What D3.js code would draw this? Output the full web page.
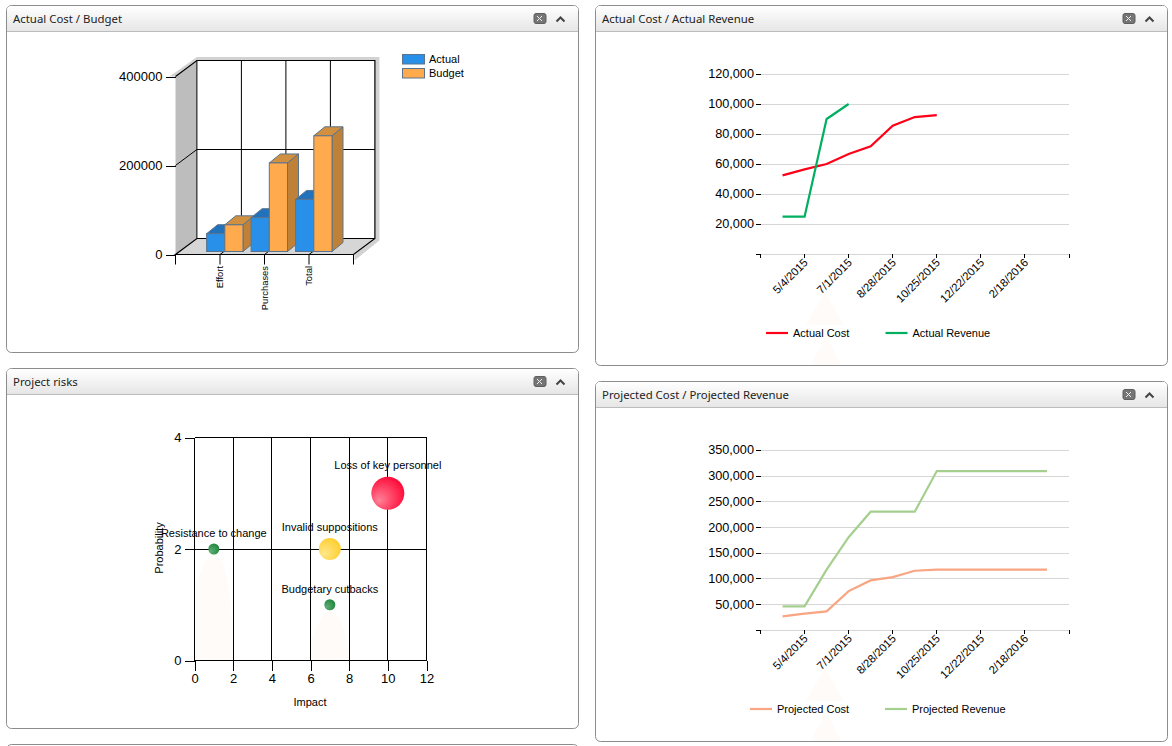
<!DOCTYPE html>
<html>
<head>
<meta charset="utf-8">
<title>Project dashboard</title>
<script src="https://cdn.jsdelivr.net/npm/d3@7"></script>
<style>
    html, body { margin: 0; padding: 0; background: #fff; overflow: hidden; }
    svg { display: block; }
    text { font-family: "Liberation Sans", Arial, sans-serif; fill: #000; }
    .panelTitle { font-family: "Noto Sans", sans-serif; font-size: 11.4px; fill: #222; }
    .domain { display: none; }
    .tick line { stroke: #000; shape-rendering: crispEdges; }
    .crisp line { shape-rendering: crispEdges; }
</style>
</head>
<body>
<svg id="board" width="1172" height="746"></svg>
<script>
// bar chart
var barCategories = ["Effort", "Purchases", "Total"];
var actualValues = [40000, 76000, 117000];
var budgetValues = [60000, 199000, 260000];
var barTicks = [0, 200000, 400000];

// line charts, one point every 29 days
var lineDates = ["4/5/2015", "5/4/2015", "6/2/2015", "7/1/2015", "7/30/2015", "8/28/2015", "9/26/2015",
    "10/25/2015", "11/23/2015", "12/22/2015", "1/20/2016", "2/18/2016", "3/18/2016"];
var labelledDates = ["5/4/2015", "7/1/2015", "8/28/2015", "10/25/2015", "12/22/2015", "2/18/2016"];
var actualCost = [52400, 56400, 60000, 66700, 71800, 85500, 91300, 92600];
var actualRevenue = [24900, 24900, 90000, 100000];
var projectedCost = [26500, 31700, 36200, 75700, 96400, 102900, 115200, 117500, 117500, 117500, 117500, 117500, 117500];
var projectedRevenue = [46000, 46000, 117500, 180500, 230000, 230000, 230000, 309000, 309000, 309000, 309000, 309000, 309000];
var actualTicks = [0, 20000, 40000, 60000, 80000, 100000, 120000];
var projectedTicks = [0, 50000, 100000, 150000, 200000, 250000, 300000, 350000];

// risks
var riskNames = ["Loss of key personnel", "Invalid suppositions", "Resistance to change", "Budgetary cutbacks"];
var riskImpact = [10, 7, 1, 7];
var riskProbability = [3, 2, 2, 1];
var riskSeverity = [3, 2, 1, 1];
var riskGradients = ["riskRed", "riskYellow", "riskGreen", "riskGreen"];
var impactTicks = [0, 2, 4, 6, 8, 10, 12];
var probabilityTicks = [0, 2, 4];

var svg = d3.select("#board");
var defs = svg.append("defs");

function addGradient(id, inner, outer) {
    var g = defs.append("radialGradient").attr("id", id)
        .attr("cx", "40%").attr("cy", "60%").attr("r", "70%")
        .attr("fx", "22%").attr("fy", "72%");
    g.append("stop").attr("offset", "0%").attr("stop-color", inner);
    g.append("stop").attr("offset", "100%").attr("stop-color", outer);
}
addGradient("riskRed", "#ff8399", "#ff0030");
addGradient("riskYellow", "#ffe78c", "#ffcd28");
addGradient("riskGreen", "#5fae76", "#1c8438");

var headerGrad = defs.append("linearGradient").attr("id", "headerGrad")
    .attr("x1", 0).attr("y1", 0).attr("x2", 0).attr("y2", 1);
headerGrad.append("stop").attr("offset", "0%").attr("stop-color", "#ffffff");
headerGrad.append("stop").attr("offset", "100%").attr("stop-color", "#e6e6e6");

// window frame with title bar, returns the group to draw in
function panel(x, y, w, h, title) {
    var g = svg.append("g");
    g.append("rect").attr("x", x + 0.5).attr("y", y + 0.5).attr("width", w).attr("height", h)
        .attr("rx", 5).attr("fill", "#fff").attr("stroke", "#8c8c8c");
    g.append("path")
        .attr("d", "M" + (x + 1) + "," + (y + 26) + "V" + (y + 5) + "Q" + (x + 1) + "," + (y + 1) + " " + (x + 5) + "," + (y + 1)
            + "H" + (x + w - 4) + "Q" + (x + w) + "," + (y + 1) + " " + (x + w) + "," + (y + 5) + "V" + (y + 26) + "Z")
        .attr("fill", "url(#headerGrad)");
    g.append("line").attr("x1", x + 1).attr("x2", x + w).attr("y1", y + 26.5).attr("y2", y + 26.5).attr("stroke", "#bcbcbc");
    g.append("text").attr("class", "panelTitle").attr("x", x + 7).attr("y", y + 18).text(title);
    // close button
    g.append("rect").attr("x", x + w - 44).attr("y", y + 8.5).attr("width", 12).attr("height", 10).attr("rx", 2)
        .attr("fill", "#757575").attr("stroke", "#5e5e5e");
    g.append("path").attr("d", "M" + (x + w - 41) + "," + (y + 11) + "l5,5m0,-5l-5,5")
        .attr("stroke", "#eee").attr("fill", "none");
    // collapse chevron
    g.append("path").attr("d", "M" + (x + w - 21.5) + "," + (y + 16.5) + "l4,-4l4,4")
        .attr("stroke", "#444").attr("stroke-width", 2).attr("fill", "none");
    return g;
}

// faint shapes seen behind the plots
var ghostColor = "#fffbf8";
function ghostDome(g, cx, top, bottom, halfWidth) {
    g.append("path")
        .attr("d", "M" + (cx - halfWidth) + "," + bottom + "V" + (top + 32)
            + "C" + (cx - halfWidth * 0.6) + "," + (top + 14) + " " + (cx - halfWidth * 0.3) + "," + top + " " + cx + "," + top
            + "C" + (cx + halfWidth * 0.5) + "," + top + " " + (cx + halfWidth) + "," + (top + 30) + " " + (cx + halfWidth) + "," + bottom + "Z")
        .attr("fill", ghostColor);
}
function ghostTriangle(g, cx, top, bottom, halfWidth) {
    g.append("path")
        .attr("d", "M" + cx + "," + top + "L" + (cx + halfWidth) + "," + bottom + "H" + (cx - halfWidth) + "Z")
        .attr("fill", ghostColor);
}

function drawBarChart(g) {
    var left = 175.5, right = 353.5, depthX = 21.4, depthY = -16;
    var y = d3.scaleLinear().domain([0, 400000]).range([254.5, 76.5]);
    var x = d3.scaleLinear().domain([0, 4]).range([left, right]);
    var y0 = y(0), yTop = y(400000);

    // drop shadow of the walls
    g.append("path").attr("fill", "#d2d2d2")
        .attr("d", "M" + (left - 6) + "," + yTop + "L" + (left + depthX) + "," + (yTop + depthY - 3.5) + "H" + (right + depthX + 4.5)
            + "V" + (y0 + depthY + 2) + "L" + (right + 1) + "," + (y0 + 6) + "V" + y0 + "L" + (left + depthX) + "," + (yTop + depthY) + "L" + left + "," + yTop + "Z");
    // walls and floor
    g.append("path").attr("fill", "#fff")
        .attr("d", "M" + (left + depthX) + "," + (yTop + depthY) + "H" + (right + depthX) + "V" + (y0 + depthY) + "H" + (left + depthX) + "Z");
    g.append("path").attr("fill", "#bdbdbd")
        .attr("d", "M" + left + "," + yTop + "L" + (left + depthX) + "," + (yTop + depthY) + "V" + (y0 + depthY) + "L" + left + "," + y0 + "Z");
    g.append("path").attr("fill", "#d6d6d6")
        .attr("d", "M" + left + "," + y0 + "L" + (left + depthX) + "," + (y0 + depthY) + "H" + (right + depthX) + "L" + right + "," + y0 + "Z");

    var grid = g.append("g").attr("stroke", "#000").attr("fill", "none");
    grid.append("path").attr("stroke-width", 1.2)
        .attr("d", "M" + left + "," + yTop + "L" + (left + depthX) + "," + (yTop + depthY) + "H" + (right + depthX) + "V" + (y0 + depthY)
            + "L" + right + "," + y0 + "H" + left + "L" + (left + depthX) + "," + (y0 + depthY) + "H" + (right + depthX));
    grid.append("line").attr("x1", left + depthX).attr("x2", left + depthX).attr("y1", yTop + depthY).attr("y2", y0 + depthY);
    d3.range(1, 4).forEach(function (i) {
        grid.append("line").attr("x1", x(i)).attr("x2", x(i) + depthX).attr("y1", y0).attr("y2", y0 + depthY);
        grid.append("line").attr("x1", x(i) + depthX).attr("x2", x(i) + depthX).attr("y1", y0 + depthY).attr("y2", yTop + depthY);
    });
    grid.append("line").attr("x1", left).attr("x2", left + depthX).attr("y1", y(200000)).attr("y2", y(200000) + depthY);
    grid.append("line").attr("x1", left + depthX).attr("x2", right + depthX).attr("y1", y(200000) + depthY).attr("y2", y(200000) + depthY);

    // bars, category by category so each one sits in front of the one before
    var barWidth = 18.2, barDX = 11, barDY = -9, shift = 4.8, lift = 3;
    var bars = g.append("g").attr("stroke", "#5b748e").attr("stroke-width", 1);
    function bar(v, i, front, top, side, offset) {
        var x0 = x(i + 1) + shift + offset, x1 = x0 + barWidth;
        var yB = y0 - lift, yT = y(v) - lift;
        bars.append("path").attr("fill", side)
            .attr("d", "M" + x1 + "," + yT + "l" + barDX + "," + barDY + "V" + (yB + barDY) + "L" + x1 + "," + yB + "Z");
        bars.append("path").attr("fill", top)
            .attr("d", "M" + x0 + "," + yT + "l" + barDX + "," + barDY + "H" + (x1 + barDX) + "L" + x1 + "," + yT + "Z");
        bars.append("rect").attr("x", x0).attr("y", yT).attr("width", barWidth).attr("height", yB - yT).attr("fill", front);
    }
    barCategories.forEach(function (c, i) {
        bar(actualValues[i], i, "#2890e8", "#2272bb", "#2272bb", -barWidth);
        bar(budgetValues[i], i, "#ffaa4c", "#d09040", "#bf8038", 0);
    });

    // value axis
    g.append("g").attr("transform", "translate(" + left + ",0)")
        .call(d3.axisLeft(y).tickValues(barTicks).tickSize(10).tickFormat(d3.format("d")))
        .call(function (a) { a.selectAll("text").attr("font-size", 13).attr("font-family", null); });

    // category ticks and labels
    d3.range(0, 5).forEach(function (i) {
        g.append("line").attr("x1", x(i)).attr("x2", x(i)).attr("y1", y0).attr("y2", y0 + 10).attr("stroke", "#000");
    });
    barCategories.forEach(function (c, i) {
        g.append("text").attr("font-size", 9.4).attr("text-anchor", "end")
            .attr("transform", "translate(" + (x(i + 1) + 3) + "," + (y0 + 11.5) + ") rotate(-90)")
            .text(c);
    });

    // legend
    [["Actual", "#2890e8"], ["Budget", "#ffaa4c"]].forEach(function (d, i) {
        g.append("rect").attr("x", 402.5).attr("y", 54.5 + i * 14).attr("width", 22).attr("height", 9.5)
            .attr("fill", d[1]).attr("stroke", "#5b748e");
        g.append("text").attr("x", 429).attr("y", 63 + i * 14).attr("font-size", 11).text(d[0]);
    });
}

function drawLineChart(g, top, yMax, ticks, series, legend) {
    var bottom = top + 180;
    var x = d3.scalePoint().domain(lineDates).range([760.5, 1069]).padding(1);
    var y = d3.scaleLinear().domain([0, yMax]).range([bottom, top]);

    ghostTriangle(g, 825, top + 219, top + 251, 19);
    ghostTriangle(g, 826, top + 262, top + 291, 15);

    g.append("g").attr("class", "crisp").selectAll("line").data(ticks).join("line")
        .attr("x1", 760.5).attr("x2", 1069)
        .attr("y1", function (d) { return y(d) + 0.3; })
        .attr("y2", function (d) { return y(d) + 0.3; })
        .attr("stroke", "#d6d6d6");

    g.append("g").attr("transform", "translate(760.5,0)")
        .call(d3.axisLeft(y).tickValues(ticks).tickSize(5).offset(0.3)
            .tickFormat(function (d) { return d === 0 ? "" : d3.format(",")(d); }))
        .call(function (a) { a.selectAll("text").attr("font-size", 12.7).attr("font-family", null).attr("x", -6.5); });

    var axisX = g.append("g").attr("transform", "translate(0," + (bottom + 0.3) + ")");
    axisX.call(d3.axisBottom(x).tickValues(labelledDates).tickSize(3.5).offset(0).tickFormat(function (d) { return d; }));
    axisX.selectAll("text").attr("font-size", 11.3).attr("font-family", null)
        .attr("text-anchor", "end").attr("dy", null).attr("y", 0)
        .attr("transform", "translate(4,9) rotate(-45)");
    [760.5, 1069].forEach(function (px) {
        axisX.append("line").attr("x1", px).attr("x2", px).attr("y1", 0).attr("y2", 3.5)
            .attr("stroke", "#000").style("shape-rendering", "crispEdges");
    });

    var line = d3.line()
        .x(function (d, i) { return x(lineDates[i]); })
        .y(function (d) { return y(d); });
    series.forEach(function (s) {
        g.append("path").datum(s.values).attr("d", line)
            .attr("fill", "none").attr("stroke", s.color).attr("stroke-width", 2.2);
    });

    legend.forEach(function (l, i) {
        var s = series[i];
        g.append("line").attr("x1", l.x).attr("x2", l.x + 22).attr("y1", top + 259).attr("y2", top + 259)
            .attr("stroke", s.color).attr("stroke-width", 2.2);
        g.append("text").attr("x", l.x + 27).attr("y", top + 263).attr("font-size", 11).text(s.name);
    });
}

function drawRiskChart(g) {
    var x = d3.scaleLinear().domain([0, 12]).range([194.5, 426.5]);
    var y = d3.scaleLinear().domain([0, 4]).range([660.5, 437.5]);
    var r = d3.scaleLinear().domain([1, 3]).range([5.5, 16.5]);

    // ghost peaks under the small bubbles
    riskNames.forEach(function (n, i) {
        if (riskSeverity[i] === 1) {
            ghostDome(g, x(riskImpact[i]), y(riskProbability[i]) + 6, y(0), 19.5);
        }
    });

    g.append("g").attr("class", "crisp").selectAll("line").data(impactTicks).join("line")
        .attr("x1", x).attr("x2", x).attr("y1", y(4)).attr("y2", y(0))
        .attr("stroke", "#000");
    g.append("g").attr("class", "crisp").selectAll("line").data(probabilityTicks).join("line")
        .attr("x1", x(0)).attr("x2", x(12))
        .attr("y1", y).attr("y2", y)
        .attr("stroke", "#000");

    g.append("g").attr("transform", "translate(194.5,0)")
        .call(d3.axisLeft(y).tickValues(probabilityTicks).tickSize(10).tickFormat(d3.format("d")))
        .call(function (a) { a.selectAll("text").attr("font-size", 13).attr("font-family", null); });
    g.append("g").attr("transform", "translate(0,660.5)")
        .call(d3.axisBottom(x).tickValues(impactTicks).tickSize(10).tickFormat(d3.format("d")))
        .call(function (a) { a.selectAll("text").attr("font-size", 13).attr("font-family", null); });

    g.append("text").attr("x", 310).attr("y", 706).attr("text-anchor", "middle").attr("font-size", 11).text("Impact");
    g.append("text").attr("transform", "translate(163,548) rotate(-90)").attr("text-anchor", "middle")
        .attr("font-size", 11).text("Probability");

    riskNames.forEach(function (name, i) {
        var cx = x(riskImpact[i]), cy = y(riskProbability[i]), rad = r(riskSeverity[i]);
        g.append("circle").attr("cx", cx).attr("cy", cy).attr("r", rad).attr("fill", "url(#" + riskGradients[i] + ")");
        g.append("text").attr("x", cx).attr("y", cy - rad * 1.15 - 5.5).attr("text-anchor", "middle")
            .attr("font-size", 11).text(name);
    });
}

drawBarChart(panel(6, 5, 572, 347, "Actual Cost / Budget"));

drawLineChart(panel(595, 5, 572, 360, "Actual Cost / Actual Revenue"), 74, 120000, actualTicks,
    [{ name: "Actual Cost", color: "#ff0018", values: actualCost },
     { name: "Actual Revenue", color: "#00b060", values: actualRevenue }],
    [{ x: 766 }, { x: 885.5 }]);

drawRiskChart(panel(6, 368, 572, 360, "Project risks"));

drawLineChart(panel(595, 381, 572, 360, "Projected Cost / Projected Revenue"), 450, 350000, projectedTicks,
    [{ name: "Projected Cost", color: "#f9a583", values: projectedCost },
     { name: "Projected Revenue", color: "#a5cf8f", values: projectedRevenue }],
    [{ x: 750 }, { x: 885 }]);

// next panel, only its top edge is on screen
svg.append("rect").attr("x", 6.5).attr("y", 744.5).attr("width", 572).attr("height", 30).attr("rx", 5)
    .attr("fill", "#fff").attr("stroke", "#8c8c8c");
</script>
</body>
</html>
